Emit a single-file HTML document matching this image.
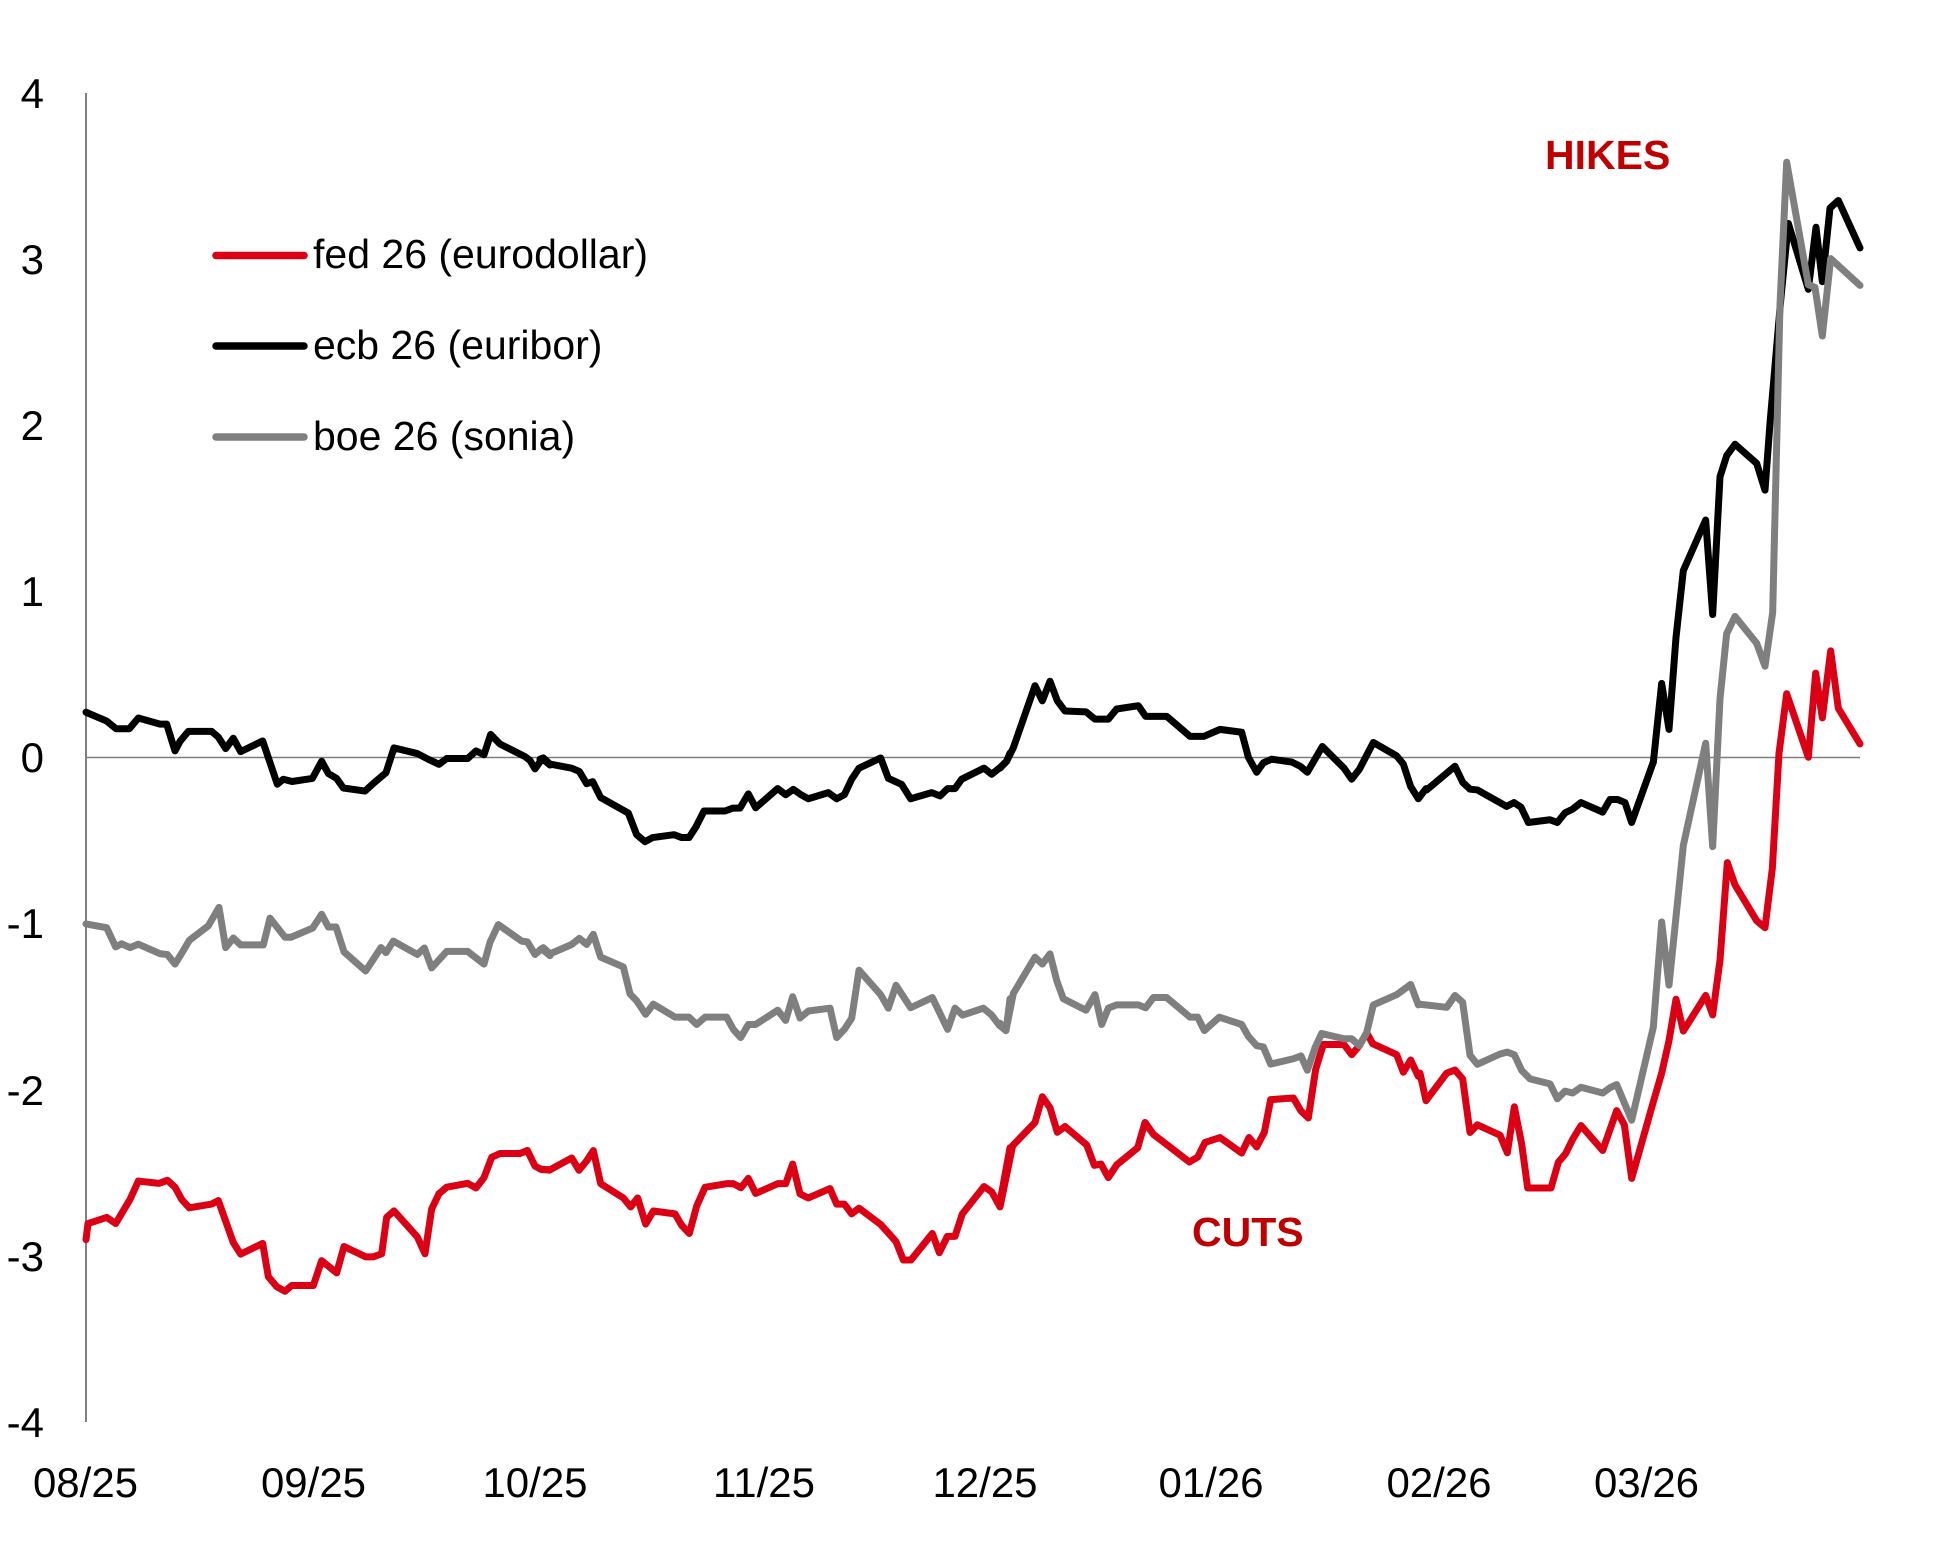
<!DOCTYPE html>
<html>
<head>
<meta charset="utf-8">
<style>
html,body{margin:0;padding:0;background:#fff;}
svg{display:block;}
text{font-family:"Liberation Sans",Arial,sans-serif;}
</style>
</head>
<body>
<svg width="1940" height="1559" viewBox="0 0 1940 1559" xmlns="http://www.w3.org/2000/svg">
<rect width="1940" height="1559" fill="#fff"/>

<!-- axes -->
<line x1="86" y1="93" x2="86" y2="1422" stroke="#7f7f7f" stroke-width="2"/>
<line x1="86" y1="757.5" x2="1860" y2="757.5" stroke="#7f7f7f" stroke-width="1.6"/>

<!-- y tick labels -->
<g font-size="42" fill="#000" text-anchor="end">
<text x="44" y="108">4</text>
<text x="44" y="274">3</text>
<text x="44" y="440">2</text>
<text x="44" y="606">1</text>
<text x="44" y="772">0</text>
<text x="44" y="938">-1</text>
<text x="44" y="1105">-2</text>
<text x="44" y="1271">-3</text>
<text x="44" y="1437">-4</text>
</g>

<!-- x tick labels -->
<g font-size="42" fill="#000" text-anchor="middle">
<text x="85.5" y="1497">08/25</text>
<text x="313.5" y="1497">09/25</text>
<text x="535" y="1497">10/25</text>
<text x="764" y="1497">11/25</text>
<text x="985" y="1497">12/25</text>
<text x="1211" y="1497">01/26</text>
<text x="1439" y="1497">02/26</text>
<text x="1646.5" y="1497">03/26</text>
</g>

<!-- legend -->
<g stroke-width="7.5" stroke-linecap="round">
<line x1="216" y1="255.5" x2="304" y2="255.5" stroke="#dc0014"/>
<line x1="216" y1="346" x2="304" y2="346" stroke="#000"/>
<line x1="216" y1="437" x2="304" y2="437" stroke="#7f7f7f"/>
</g>
<g font-size="41" fill="#000">
<text x="313" y="268">fed 26 (eurodollar)</text>
<text x="313" y="359">ecb 26 (euribor)</text>
<text x="313" y="450">boe 26 (sonia)</text>
</g>

<!-- annotations -->
<g font-size="41" font-weight="bold" fill="#c00000">
<text x="1545" y="169">HIKES</text>
<text x="1192" y="1246">CUTS</text>
</g>

<!-- RED fed -->
<g fill="none" stroke="#dc0014" stroke-width="7" stroke-linejoin="round" stroke-linecap="round">
<polyline vector-effect="non-scaling-stroke" transform="translate(80,700) scale(0.333333,0.382700)" points="18,1410 24,1368 80,1352 107,1368 150,1305 175,1257 237,1263 262,1255 285,1273 305,1305 328,1327 395,1317 415,1308 460,1418 482,1448 548,1420 565,1507 590,1533 615,1545 635,1530 700,1530 725,1465 770,1497 792,1428 857,1455 880,1455 905,1447 920,1352 942,1335 1012,1403 1035,1447 1055,1330 1077,1290 1100,1273 1163,1263 1188,1275 1212,1248 1235,1195 1260,1185 1320,1185 1342,1177 1365,1218 1385,1227 1410,1227"/>
<polyline vector-effect="non-scaling-stroke" transform="translate(540,660) scale(0.333333,0.408163)" points="0,1247 28,1250 95,1220 117,1250 140,1227 160,1202 182,1283 250,1318 272,1340 293,1318 317,1382 340,1350 405,1357 425,1385 448,1405 470,1338 495,1292 560,1283 580,1283 603,1293 625,1270 647,1307 713,1283 737,1283 758,1235 780,1308 805,1318 870,1295 890,1333 913,1333 935,1357 957,1343 1022,1383 1068,1425 1090,1470 1113,1470 1177,1405 1198,1452 1222,1412 1245,1412 1267,1357 1332,1290 1355,1303 1378,1337 1410,1195"/>
<polyline vector-effect="non-scaling-stroke" transform="translate(1000,660) scale(0.333333,0.408163)" points="0,1340 38,1190 105,1133 127,1070 150,1097 172,1157 195,1143 260,1188 283,1238 303,1235 325,1268 350,1237 413,1195 435,1133 460,1162 500,1187 568,1230 593,1218 615,1182 660,1170 725,1208 747,1170 770,1193 793,1157 812,1077 880,1073 903,1105 925,1122 947,1003 970,942 1032,942 1055,967 1078,945 1100,913 1118,940 1190,967 1210,1010 1232,980 1255,1020"/>
<polyline vector-effect="non-scaling-stroke" transform="translate(1420,700) scale(0.333333,0.382700)" points="0,975 18,1047 80,975 105,967 128,990 150,1130 172,1110 240,1137 262,1183 283,1063 305,1160 323,1275 393,1275 415,1208 437,1185 458,1148 483,1112 548,1177 590,1073 613,1110 635,1250 700,1050 725,975 747,890 768,782 790,865 857,772 878,823 900,680 922,425 945,483 1010,577 1035,595 1057,440 1077,140"/>
<polyline vector-effect="non-scaling-stroke" transform="translate(1420,140) scale(0.333333,0.382700)" points="1077,1603 1100,1447 1165,1613 1187,1393 1207,1510 1232,1335 1255,1485 1320,1578"/>
</g>

<!-- BLACK ecb -->
<g fill="none" stroke="#000" stroke-width="7" stroke-linejoin="round" stroke-linecap="round">
<polyline vector-effect="non-scaling-stroke" transform="translate(80,700) scale(0.333333,0.382700)" points="18,32 80,55 108,75 148,75 175,47 240,63 260,63 285,133 300,108 325,82 395,82 415,97 437,127 460,100 482,135 548,107 592,220 610,207 636,213 697,205 725,160 745,192 770,205 790,230 855,238 880,218 918,190 942,125 1012,140 1045,155 1077,168 1100,153 1163,153 1188,133 1212,143 1232,90 1260,115 1335,148 1350,158 1365,180 1387,153 1410,170"/>
<polyline vector-effect="non-scaling-stroke" transform="translate(540,660) scale(0.333333,0.408163)" points="0,243 10,240 30,255 95,265 118,273 140,303 158,298 182,337 265,375 290,428 315,445 338,435 402,428 425,435 447,435 467,410 492,370 555,370 578,363 600,363 625,328 647,362 713,315 737,330 760,317 783,330 805,340 865,325 890,340 913,330 935,292 957,265 1022,240 1045,290 1085,305 1112,340 1175,325 1200,333 1223,315 1245,315 1265,292 1332,265 1355,280 1378,265 1400,248 1410,228"/>
<polyline vector-effect="non-scaling-stroke" transform="translate(1000,660) scale(0.333333,0.408163)" points="0,265 20,248 40,215 105,63 127,100 150,52 172,100 195,125 258,127 285,145 325,145 350,120 415,112 437,138 500,138 570,187 612,187 660,170 725,177 745,238 770,275 790,252 815,243 875,250 900,260 922,275 967,212 1032,265 1055,292 1078,268 1120,202 1190,235 1210,255 1232,310 1255,340 1278,315"/>
<polyline vector-effect="non-scaling-stroke" transform="translate(1420,700) scale(0.333333,0.382700)" points="20,235 105,173 128,215 150,233 172,235 260,278 282,268 303,280 325,320 390,313 412,320 435,295 458,285 483,268 548,293 570,260 593,260 615,268 635,320 700,162"/>
<polyline vector-effect="non-scaling-stroke" transform="translate(1420,140) scale(0.333333,0.382700)" points="700,1626 725,1420 747,1540 768,1300 790,1125 857,993 878,1240 900,880 920,825 945,795 1010,845 1035,915 1050,740 1065,590 1082,420 1105,218 1165,390 1188,228 1207,370 1230,178 1255,158 1320,282"/>
</g>

<!-- GRAY boe -->
<g fill="none" stroke="#7f7f7f" stroke-width="7" stroke-linejoin="round" stroke-linecap="round">
<polyline vector-effect="non-scaling-stroke" transform="translate(80,700) scale(0.333333,0.382700)" points="18,585 80,595 107,645 125,637 150,647 175,638 240,663 262,665 285,690 305,662 328,628 385,590 417,542 437,647 460,622 482,640 550,640 570,570 615,620 633,620 698,596 725,560 745,593 768,593 792,658 857,708 903,647 918,660 940,630 1012,665 1033,648 1055,700 1100,657 1163,657 1212,690 1230,633 1255,587 1325,630 1342,632 1365,665 1385,650 1410,668"/>
<polyline vector-effect="non-scaling-stroke" transform="translate(540,660) scale(0.333333,0.408163)" points="0,710 10,705 30,720 95,697 118,682 140,697 160,672 182,728 250,752 270,818 290,835 317,868 340,843 405,875 447,875 470,893 495,875 560,875 580,905 602,925 625,893 647,893 713,858 737,883 758,825 780,877 805,860 870,853 890,925 913,905 935,878 957,760 1022,820 1045,853 1068,797 1112,852 1177,827 1223,905 1245,853 1268,870 1330,853 1355,870 1378,895 1398,908 1410,830"/>
<polyline vector-effect="non-scaling-stroke" transform="translate(1000,660) scale(0.333333,0.408163)" points="0,890 18,907 40,817 105,728 127,745 150,720 170,785 190,830 258,858 285,820 305,893 325,853 350,845 415,845 437,852 460,827 500,827 570,875 593,875 613,908 658,875 725,893 745,922 770,945 790,948 812,990 880,977 903,970 922,1005 945,950 965,915 1032,928 1055,928 1078,945 1100,913 1120,845 1190,820 1232,795 1255,845"/>
<polyline vector-effect="non-scaling-stroke" transform="translate(1420,700) scale(0.333333,0.382700)" points="0,795 80,803 105,772 128,790 150,928 172,952 240,925 262,920 283,927 305,968 330,990 390,1003 412,1042 435,1022 458,1027 483,1012 548,1027 570,1013 590,1005 635,1098 700,855 725,580 747,745 790,380 857,113 878,383"/>
<polyline vector-effect="non-scaling-stroke" transform="translate(1420,140) scale(0.333333,0.382700)" points="878,1846 900,1460 920,1290 945,1245 1010,1315 1035,1375 1058,1235 1080,430 1100,58 1165,378 1185,385 1207,512 1232,310 1320,380"/>
</g>
</svg>
</body>
</html>
